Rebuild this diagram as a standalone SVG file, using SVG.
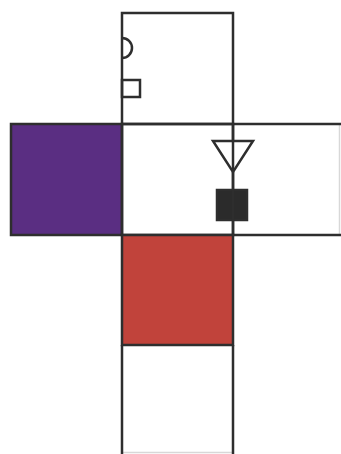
<svg xmlns="http://www.w3.org/2000/svg" width="341" height="454" viewBox="0 0 341 454">
<style>
.e{fill:none;stroke:#2e2e2e;stroke-width:2.5}
.f{stroke:#2e2e2e;stroke-width:2.5}
.g{fill:none;stroke:#d8d8d8;stroke-width:1.5}
</style>
<rect width="341" height="454" fill="#fff"/>
<g id="top">
<rect class="e" x="122" y="13" width="111" height="111" fill="#fff"/>
<path class="e" d="M122,38 A10,10 0 0 1 122,58"/>
<rect class="e" x="122" y="80" width="18" height="17"/>
</g>
<g id="left">
<rect class="f" x="11" y="124" width="111" height="111" fill="#5a2e82"/>
</g>
<g id="right">
<path class="g" d="M339.5,125 V234"/>
<path class="e" d="M233,124 H342 M233,235 H342"/>
<path class="e" d="M233,124 V141 M233,172 V190 M233,220 V235"/>
<polygon class="e" points="213,141 253,141 233,172"/>
<rect class="f" x="217" y="190" width="30" height="30" fill="#2b2b2b"/>
</g>
<g id="center">
<rect class="e" x="122" y="124" width="111" height="111"/>
</g>
<g id="front">
<rect class="f" x="122" y="235" width="111" height="110" fill="#c1433b"/>
</g>
<g id="bottom">
<path class="g" d="M123,452.5 H232"/>
<path class="e" d="M122,345 V455 M233,345 V455"/>
</g>
</svg>
